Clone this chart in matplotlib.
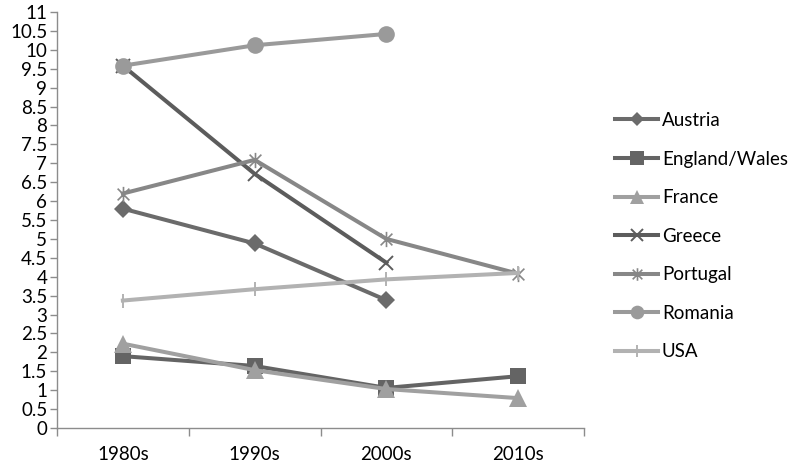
import matplotlib
matplotlib.use("Agg")
import matplotlib.pyplot as plt
from matplotlib.path import Path
import numpy as np

categories = ["1980s", "1990s", "2000s", "2010s"]
austria = [5.8, 4.88, 3.38, np.nan]
england_wales = [1.9, 1.64, 1.06, 1.37]
france = [2.23, 1.53, 1.03, 0.79]
greece = [9.58, 6.72, 4.37, np.nan]
portugal = [6.2, 7.09, 5.0, 4.08]
romania = [9.58, 10.12, 10.42, np.nan]
usa = [3.37, 3.67, 3.93, 4.1]
yticks = np.arange(0, 11.01, 0.5)
ytick_labels = [("%g" % v) for v in yticks]

plt.rcParams['font.family'] = ['Lato', 'DejaVu Sans']

star = Path([(-1, -1), (1, 1), (-1, 1), (1, -1), (0, -1.3), (0, 1.3)],
            [Path.MOVETO, Path.LINETO, Path.MOVETO, Path.LINETO, Path.MOVETO, Path.LINETO])

fig = plt.figure(figsize=(7.94, 4.68), dpi=100)
ax = fig.add_axes([57/794, 1-428/468, (584-57)/794, (428-12)/468])

x = np.arange(len(categories))
series = [
    ("Austria", austria, "#6b6b6b", "D", 9, 0),
    ("England/Wales", england_wales, "#646464", "s", 11.5, 0),
    ("France", france, "#a0a0a0", "^", 12.5, 0),
    ("Greece", greece, "#5c5c5c", "x", 10, 1.4),
    ("Portugal", portugal, "#878787", star, 11, 1.2),
    ("Romania", romania, "#9a9a9a", "o", 12, 0),
    ("USA", usa, "#b2b2b2", "|", 10, 1.4),
]
for name, vals, col, mk, ms, mew in series:
    ax.plot(x, vals, color=col, lw=2.9, marker=mk, markersize=ms, markerfacecolor=col,
            markeredgecolor=col, markeredgewidth=mew, label=name)

ax.set_xlim(-0.5, len(categories) - 0.5)
ax.set_ylim(0, 11)
ax.set_yticks(yticks)
ax.set_yticklabels(ytick_labels, fontsize=13.5)
ax.set_xticks(x)
ax.set_xticklabels(categories, fontsize=13.5)
ax.tick_params(axis='x', length=0, pad=13)
ax.set_xticks(np.arange(-0.5, len(categories), 1), minor=True)
ax.tick_params(axis='x', which='minor', length=6, direction='out', color='#8c8c8c', width=1)
ax.tick_params(axis='y', length=5, direction='out', color='#8c8c8c', width=1, pad=2)
for s in ["top", "right"]:
    ax.spines[s].set_visible(False)
for s in ["left", "bottom"]:
    ax.spines[s].set_color("#8c8c8c")
    ax.spines[s].set_linewidth(1)

leg = fig.legend(loc="upper left", bbox_to_anchor=(615/794, 1-112/468), frameon=False,
                 fontsize=13.5, handlelength=2.3, handletextpad=0.2, labelspacing=1.15,
                 borderaxespad=0, borderpad=0, markerscale=0.82)
plt.savefig("out.png", dpi=100)
